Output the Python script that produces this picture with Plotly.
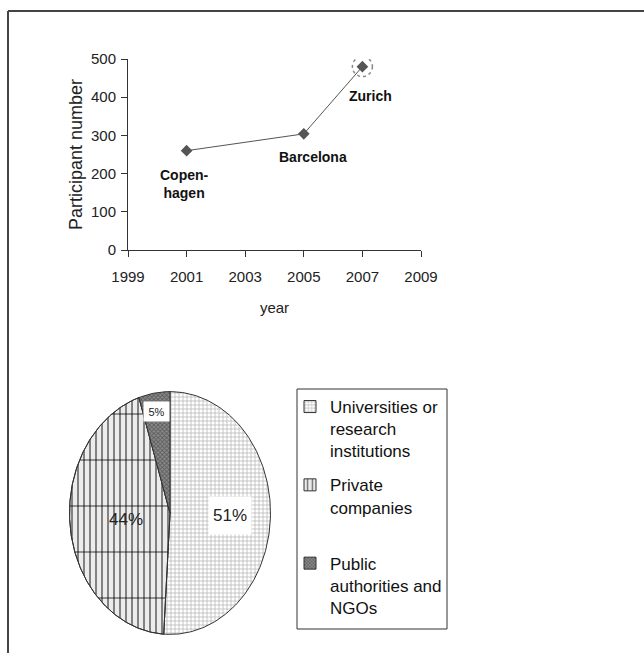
import numpy as np
import plotly.graph_objects as go

# ---- data ----
years = [2001, 2005, 2007]
participants = [260, 304, 480]
cities = ["Copen-<br>hagen", "Barcelona", "Zurich"]

sectors = ["Universities or<br>research<br>institutions",
           "Private<br>companies<br> ",
           "Public<br>authorities and<br>NGOs"]
shares = [51, 44, 5]

W, H = 644, 653
FONT = "Liberation Sans, Arial, sans-serif"
NARROW = "Liberation Sans Narrow, Arial Narrow, Liberation Sans, Arial, sans-serif"


def fx(px):
    return px / W


def fy(py):
    return 1 - py / H


fig = go.Figure()

# ---- line chart: participants per conference ----
fig.add_trace(go.Scatter(
    x=years, y=participants, mode="lines+markers",
    line=dict(color="#555555", width=1),
    marker=dict(symbol="diamond", size=9, color="#555555"),
    showlegend=False, hoverinfo="x+y", xaxis="x", yaxis="y"))

label_shift = {"Copen-<br>hagen": (-2, -33), "Barcelona": (9, -23), "Zurich": (8, -29)}
for xv, yv, name in zip(years, participants, cities):
    dx, dy = label_shift[name]
    fig.add_annotation(x=xv, y=yv, xref="x", yref="y", text="<b>%s</b>" % name,
                       showarrow=False, xshift=dx, yshift=dy,
                       font=dict(family=NARROW, size=14, color="#111111"))

# dotted highlight ring round the latest conference
fig.add_shape(type="circle", xref="x", yref="y",
              xsizemode="pixel", ysizemode="pixel",
              xanchor=years[-1], yanchor=participants[-1],
              x0=-10, x1=10, y0=-10, y1=10,
              line=dict(color="#888888", width=1.5, dash="dot"))

# ---- pie chart (elliptical) ----
patterns = [
    dict(shape="+", size=4, solidity=0.3, fgcolor="#5a5a5a", bgcolor="white"),
    dict(shape="|", size=6, solidity=0.3, fgcolor="black", bgcolor="#ececec"),
    dict(shape="x", size=3, solidity=0.5, fgcolor="#2a2a2a", bgcolor="#8c8c8c"),
]
total = float(sum(shares))
start = 0.0
mids = []
for i, (name, val) in enumerate(zip(sectors, shares)):
    a0 = 2 * np.pi * start / total
    a1 = 2 * np.pi * (start + val) / total
    t = np.linspace(a0, a1, max(int(val * 4), 8))
    xs = np.concatenate([[0], np.sin(t), [0]])
    ys = np.concatenate([[0], np.cos(t), [0]])
    fig.add_trace(go.Scatter(
        x=xs, y=ys, mode="lines", fill="toself",
        fillcolor=patterns[i]["bgcolor"], fillpattern=patterns[i],
        line=dict(color="#333333", width=1),
        name=name.replace("<br>", " ").strip(), showlegend=False,
        xaxis="x2", yaxis="y2", hoverinfo="name"))
    if i == 1:
        # coarse horizontal rules over the vertical hatching
        fig.add_trace(go.Scatter(
            x=xs, y=ys, mode="lines", fill="toself",
            fillcolor="rgba(0,0,0,0)",
            fillpattern=dict(shape="-", size=46, solidity=0.03,
                             fgcolor="black", bgcolor="rgba(0,0,0,0)"),
            line=dict(color="#333333", width=1),
            showlegend=False, xaxis="x2", yaxis="y2", hoverinfo="skip"))
    # legend key with square pattern swatch
    fig.add_trace(go.Bar(
        x=[None], y=[None], name=name, legendgroup=str(i),
        marker=dict(color=patterns[i]["bgcolor"], pattern=patterns[i],
                    line=dict(color="#333333", width=1)),
        xaxis="x2", yaxis="y2", showlegend=True, hoverinfo="skip"))
    mids.append((start + val / 2) / total * 2 * np.pi)
    start += val

label_r = [0.6, 0.44, 0.85]
label_style = [dict(size=17, box=True, w=40, h=35),
               dict(size=17, box=False, w=None, h=None),
               dict(size=11, box=True, w=23, h=17)]
for val, ang, r, st in zip(shares, mids, label_r, label_style):
    kw = dict(x=r * np.sin(ang), y=r * np.cos(ang), xref="x2", yref="y2",
              text="%d%%" % val, showarrow=False,
              font=dict(family=FONT, size=st["size"], color="#222222"))
    if st["box"]:
        kw.update(bgcolor="white", width=st["w"], height=st["h"])
    fig.add_annotation(**kw)

# ---- frame and legend box ----
fig.add_shape(type="line", xref="paper", yref="paper", x0=fx(8), x1=1, y0=fy(11), y1=fy(11),
              line=dict(color="#444444", width=2))
fig.add_shape(type="line", xref="paper", yref="paper", x0=fx(8), x1=fx(8), y0=fy(11), y1=0,
              line=dict(color="#444444", width=2))
fig.add_shape(type="rect", xref="paper", yref="paper", x0=fx(297), x1=fx(447),
              y0=fy(629), y1=fy(389), line=dict(color="#333333", width=1), layer="below")

axis_common = dict(showgrid=False, zeroline=False, showline=True, linecolor="#333333",
                   linewidth=1, ticks="outside", ticklen=6, tickcolor="#333333",
                   automargin=False,
                   tickfont=dict(family=FONT, size=15, color="#222222"))

fig.update_layout(
    width=W, height=H, margin=dict(l=0, r=0, t=0, b=0, autoexpand=False),
    paper_bgcolor="white", plot_bgcolor="white",
    font=dict(family=FONT, color="#222222"),
    xaxis=dict(domain=[fx(128), fx(421)], range=[1999, 2009], tickvals=list(range(1999, 2010, 2)),
               anchor="y", ticklabelstandoff=7,
               title=dict(text="year", font=dict(size=15), standoff=18),
               **axis_common),
    yaxis=dict(domain=[fy(250), fy(59)], range=[0, 500], tickvals=list(range(0, 501, 100)),
               anchor="x", ticklabelstandoff=2,
               title=dict(text="Participant number", font=dict(size=18), standoff=3),
               **axis_common),
    xaxis2=dict(domain=[fx(69), fx(271)], range=[-1.005, 1.005], visible=False,
                anchor="y2", fixedrange=True, automargin=False),
    yaxis2=dict(domain=[fy(635), fy(391)], range=[-1.005, 1.005], visible=False,
                anchor="x2", fixedrange=True, automargin=False),
    legend=dict(x=fx(290), y=fy(389), xanchor="left", yanchor="top",
                borderwidth=0, bgcolor="rgba(0,0,0,0)",
                font=dict(family=FONT, size=17, color="#111111"),
                valign="top", tracegroupgap=9),
)

fig.write_html("out.html")
